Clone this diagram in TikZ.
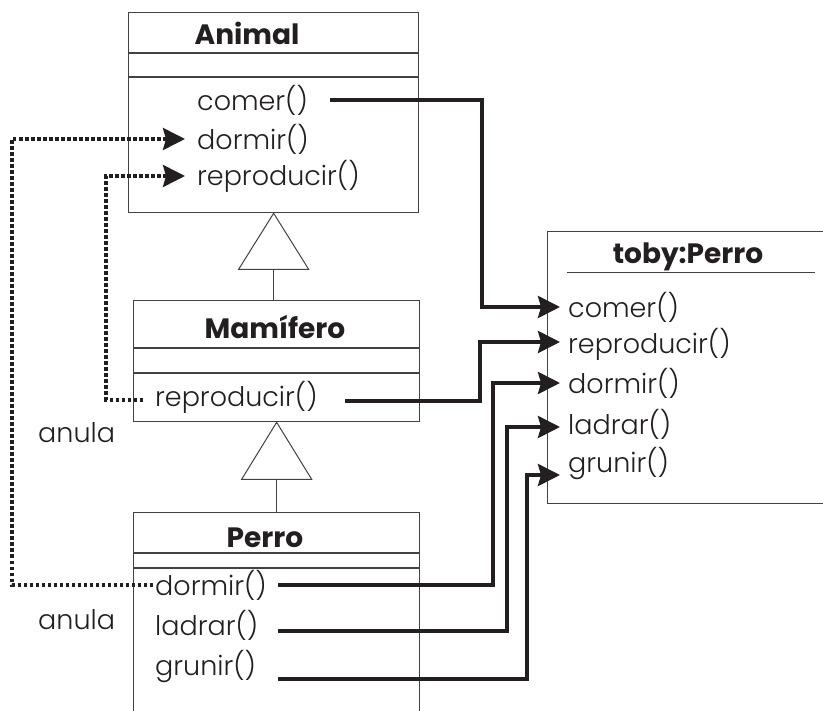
\documentclass[tikz,border=0pt]{standalone}
\usepackage{fontspec}
\setmainfont{Poppins}
\newfontfamily\lightfont{Poppins Light}
\usetikzlibrary{arrows.meta}
\definecolor{ink}{RGB}{35,31,32}
\begin{document}
\begin{tikzpicture}[x=1pt,y=-1pt,
  box/.style={draw=ink!85, line width=1.3pt},
  thinln/.style={draw=ink!85, line width=1pt},
  classtitle/.style={inner sep=0pt, font=\fontsize{28}{28}\selectfont\bfseries, text=ink},
  meth/.style={anchor=west, inner sep=0pt, font=\lightfont\fontsize{27}{27}\selectfont, text=ink},
  conn/.style={draw=ink, line width=3.5pt, -{Stealth[length=22pt,width=22pt,inset=3pt]}},
  dots/.style={draw=ink, line width=3.3pt, dash pattern=on 3.5pt off 2.5pt, -{Stealth[length=22pt,width=22pt,inset=3pt]}}
]
\clip (0,0) rectangle (823,711);
\fill[white] (0,0) rectangle (823,711);

% Animal
\node[box, anchor=north west, minimum width=290pt, minimum height=200pt] (animal) at (128,12) {};
\draw[box] (128,53) -- (418,53) (128,77) -- (418,77);
\node[classtitle] (tAnimal) at (247,33) {Animal};
\node[meth] (aComer) at (197,100) {comer()};
\node[meth] (aDormir) at (197,139) {dormir()};
\node[meth] (aRepro) at (197,176) {reproducir()};

% Mamifero
\node[box, anchor=north west, minimum width=286pt, minimum height=121pt] (mam) at (133,300) {};
\draw[box] (133,348) -- (419,348) (133,373) -- (419,373);
\node[classtitle] (tMam) at (275,327) {Mamífero};
\node[meth] (mRepro) at (155,397) {reproducir()};

% Perro
\node[box, anchor=north west, minimum width=286pt, minimum height=240pt] (perro) at (133,512) {};
\draw[box] (133,553) -- (419,553) (133,568) -- (419,568);
\node[classtitle] (tPerro) at (265,538) {Perro};
\node[meth] (pDormir) at (155,585) {dormir()};
\node[meth] (pLadrar) at (155,625) {ladrar()};
\node[meth] (pGrunir) at (155,667) {grunir()};

% anula labels
\node[meth] (anula1) at (38,433) {anula};
\node[meth] (anula2) at (38,620) {anula};

% toby:Perro object
\node[box, anchor=north west, minimum width=300pt, minimum height=272pt] (toby) at (547,231) {};
\node[classtitle] (tToby) at (688,257) {toby:Perro};
\draw[thinln] (567,273) -- (815,273);
\node[meth] (tComer) at (568,307) {comer()};
\node[meth] (tRepro) at (568,344) {reproducir()};
\node[meth] (tDormir) at (568,383) {dormir()};
\node[meth] (tLadrar) at (568,424) {ladrar()};
\node[meth] (tGrunir) at (568,464) {grunir()};

% inheritance
\draw[thinln] (animal.south) -- ++(-35,56) -- ++(70,0) -- cycle;
\draw[thinln] ([yshift=-56pt]animal.south) -- (animal.south |- mam.north);
\draw[thinln] (mam.south) -- ++(-35,57) -- ++(70,0) -- cycle;
\draw[thinln] ([yshift=-57pt]mam.south) -- (mam.south |- perro.north);

% helper columns
\coordinate (c1) at (482,0);
\coordinate (c2) at (480,0);
\coordinate (c3) at (493,0);
\coordinate (c4) at (507,0);
\coordinate (c5) at (527,0);
\coordinate (s1) at (330,0);
\coordinate (s2) at (345,0);
\coordinate (s3) at (278,0);
\coordinate (d1) at (12,0);
\coordinate (d2) at (106,0);

% solid connectors
\draw[conn] (aComer.east -| s1) -- (aComer.east -| c1) |- ([xshift=-8pt]tComer.west);
\draw[conn] ([yshift=-4pt]mRepro.east -| s2) -- ([yshift=-4pt]mRepro.east -| c2) |- ([xshift=-8pt,yshift=2pt]tRepro.west);
\draw[conn] (pDormir.east -| s3) -- (pDormir.east -| c3) |- ([xshift=-8pt]tDormir.west);
\draw[conn] ([yshift=-6pt]pLadrar.east -| s3) -- ([yshift=-6pt]pLadrar.east -| c4) |- ([xshift=-8pt,yshift=-3pt]tLadrar.west);
\draw[conn] ([yshift=-12pt]pGrunir.east -| s3) -- ([yshift=-12pt]pGrunir.east -| c5) |- ([xshift=-8pt,yshift=-11pt]tGrunir.west);

% dotted overrides
\draw[dots] ([xshift=-2pt]pDormir.west) -- (pDormir.west -| d1) |- ([xshift=-12pt]aDormir.west);
\draw[dots] ([xshift=-12pt,yshift=-3pt]mRepro.west) -- ([yshift=-3pt]mRepro.west -| d2) |- ([xshift=-12pt]aRepro.west);
\end{tikzpicture}
\end{document}
